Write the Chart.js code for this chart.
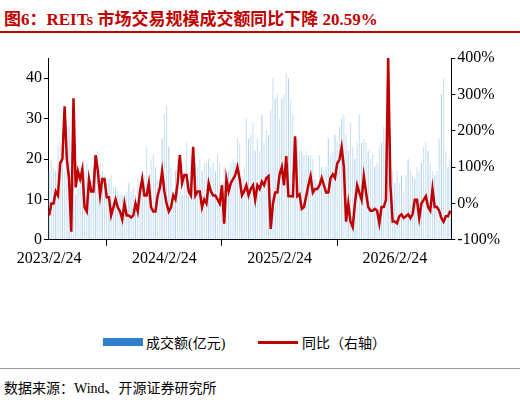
<!DOCTYPE html>
<html><head><meta charset="utf-8">
<script src="https://cdn.jsdelivr.net/npm/chart.js@4"></script>
<style>
body{margin:0;width:520px;height:406px;background:#fff;position:relative;overflow:hidden;font-family:"Liberation Serif","Noto Sans CJK SC",serif;}
#title{position:absolute;left:4px;top:5px;font-size:17px;font-weight:bold;color:#c00000;font-family:"Liberation Serif","Noto Sans CJK SC",serif;}
#tl{position:absolute;left:0;top:31px;width:520px;height:2px;background:#c00000;}
#wrap{position:absolute;left:0;top:38px;width:520px;height:236px;}
#legend{position:absolute;top:332px;left:0;width:520px;font-size:14px;color:#000;}
#fl{position:absolute;left:0;top:368px;width:520px;height:1px;background:#999;}
#src{position:absolute;left:4px;top:377px;font-size:14px;}
</style></head><body>
<div id="title">图6：REITs 市场交易规模成交额同比下降 20.59%</div>
<div id="tl"></div>
<div id="wrap"><canvas id="c"></canvas></div>
<div id="legend">
<span style="position:absolute;left:103px;top:6px;width:40px;height:8px;background:#2f80cc"></span>
<span style="position:absolute;left:146px;top:0">成交额(亿元)</span>
<span style="position:absolute;left:258px;top:9px;width:40px;height:3px;background:#c00000"></span>
<span style="position:absolute;left:302px;top:0">同比（右轴）</span>
</div>
<div id="fl"></div>
<div id="src">数据来源：Wind、开源证券研究所</div>
<script>
const tickLabels=['2023/2/24','2024/2/24','2025/2/24','2026/2/24'];
const tickWeeks=[0,52,104,156];
const volume=[17,20,18,17,23,24,27,17,19,28,22,14,11,13,14,16,17,19,13,15,18,20,22,19,17,16,14,15,16,13,13,12,11,11,11,12,14,12,13,11,15,14,17,16,23,14,20,21,18,15,15,25,31,33,23,18,12,17,21,13,11,15,24,14,21,19,19,18,20,17,19,19,20,18,19,17,21,19,14,18,15,17,19,20,19,25,24,15,18,30,25,26,29,22,25,22,31,24,27,26,32,40,35,36,30,35,36,41,40,35,31,24,25,22,22,21,22,21,21,20,15,13,21,18,17,18,25,21,22,26,24,28,30,31,26,22,29,23,20,24,31,24,25,24,22,20,21,18,19,23,24,28,23,28,25,17,14,17,14,16,12,16,20,17,16,15,18,17,19,23,24,22,19,17,16,17,25,36,40,22,18,20,15,14,17,22];
const yoy=[-33,0,0,33,22,111,122,267,122,67,-78,289,44,89,67,94,-11,-22,67,33,33,133,89,22,67,67,17,17,-33,-11,11,-11,-22,-44,0,-33,-33,-39,-33,0,-22,33,67,22,22,56,-11,-22,-22,22,44,89,33,0,-22,-11,22,11,56,133,56,78,78,33,22,156,22,33,33,-11,11,0,56,33,22,22,11,0,50,-56,67,33,56,67,78,100,67,22,33,50,22,40,50,10,50,40,60,50,70,75,-70,0,30,30,80,100,50,130,20,20,20,185,20,25,-15,-10,20,50,75,30,40,40,50,70,50,30,30,70,80,70,110,120,155,100,-50,0,-50,-65,0,50,30,10,75,30,-10,-20,-20,-15,-20,-55,-10,-10,10,400,50,-50,-50,-55,-35,-30,-40,-35,-30,-40,-30,10,10,-40,0,10,20,-10,-20,40,-10,-10,-20,-40,-50,-35,-35,-20];
const n=Math.min(volume.length,yoy.length);
const labels=[];for(let i=0;i<n;i++)labels.push(i);
const barColors=volume.map((v,i)=>i%3===0?'rgba(120,175,225,0.55)':'rgba(140,190,235,0.45)');
const F={family:'"Liberation Serif", serif',size:16};
new Chart(document.getElementById('c'),{
 data:{labels:labels,datasets:[
  {type:'line',data:yoy.slice(0,n),yAxisID:'y1',borderColor:'#c00000',borderWidth:2.5,pointRadius:0,tension:0,order:0},
  {type:'bar',data:volume.slice(0,n),yAxisID:'y',backgroundColor:barColors,barPercentage:0.5,categoryPercentage:1,order:1}
 ]},
 options:{responsive:true,maintainAspectRatio:false,animation:false,
  layout:{padding:{left:24,right:18,top:20,bottom:3}},
  plugins:{legend:{display:false},tooltip:{enabled:false}},
  scales:{
   x:{grid:{display:true,drawOnChartArea:false,drawTicks:true,tickLength:6,color:c=>tickWeeks.includes(c.tick&&c.tick.value)?'#000':'rgba(0,0,0,0)'},border:{color:'#000'},
      ticks:{autoSkip:false,maxRotation:0,color:'#000',font:F,callback:(v)=>{const k=tickWeeks.indexOf(v);return k>=0?tickLabels[k]:null;}}},
   y:{position:'left',min:0,max:45,grid:{display:true,drawOnChartArea:false,tickLength:4,color:'#000'},border:{color:'#000'},ticks:{stepSize:5,color:'#000',font:F,padding:2}},
   y1:{position:'right',min:-100,max:400,grid:{display:true,drawOnChartArea:false,tickLength:4,color:'#000'},border:{color:'#000'},ticks:{stepSize:100,color:'#000',font:F,padding:2,callback:v=>v+'%'}}
  }}
});
</script></body></html>
